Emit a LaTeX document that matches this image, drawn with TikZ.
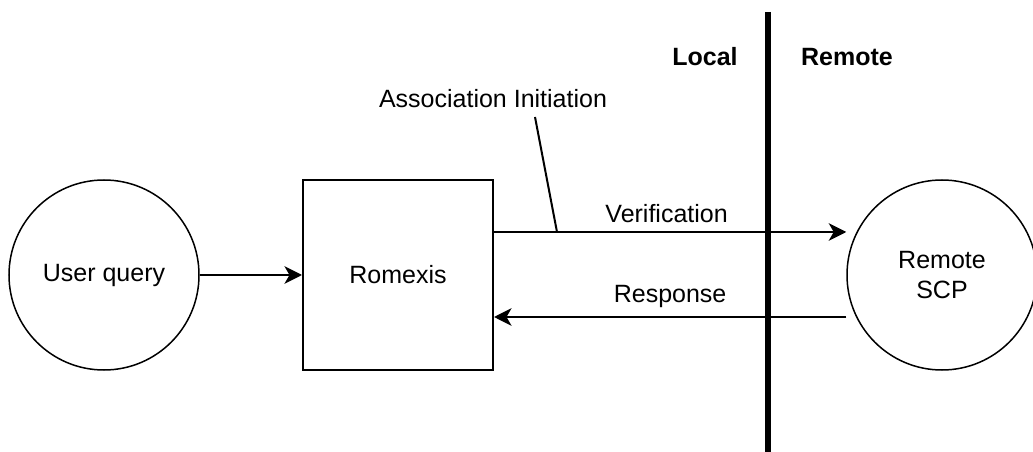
\documentclass[tikz,border=0pt]{standalone}
\usepackage{fontspec}
\setmainfont{Liberation Sans}
\usetikzlibrary{arrows.meta, positioning}

\begin{document}
\begin{tikzpicture}[
    x=0.4pt, y=-0.4pt,
    % Node styles
    endpoint/.style={
        circle,
        draw=black,
        line width=0.6pt,
        minimum size=76pt,
        inner sep=0pt,
        align=center
    },
    processbox/.style={
        rectangle,
        draw=black,
        line width=0.8pt,
        minimum width=76pt,
        minimum height=76pt,
        align=center
    },
    zonelabel/.style={
        font=\bfseries
    },
    arrow/.style={
        -{Stealth[length=7pt, width=7pt, inset=2pt]},
        line width=0.8pt,
        black
    }
]
\useasboundingbox (0,0) rectangle (1033,452);

% === Nodes ===
\node[endpoint] (user) at (104,275) {User query};
\node[processbox] (romexis) at (398,275) {Romexis};
\node[endpoint] (remote) at (942,275) {Remote\\SCP};

% === Local / Remote divider ===
\coordinate (divtop) at (768,12);
\coordinate (divbot) at (768,452);
\draw[line width=2.6pt] (divtop) -- (divbot);
\node[zonelabel] (local) at (705,57) {Local};
\node[zonelabel] (remotezone) at (847,57) {Remote};

% === Arrows ===
\draw[arrow] (user) -- (romexis);
\draw[arrow] (romexis.east |- 0,232) -- node[above, pos=0.49] (verif) {Verification} (remote.west |- 0,232);
\draw[arrow] (remote.west |- 0,317) -- node[above, pos=0.5] (resp) {Response} (romexis.east |- 0,317);

% === Annotation ===
\node (assoc) at (493,99) {Association Initiation};
\coordinate (leadtop) at (535,117);
\coordinate (leadbot) at (557,232);
\draw[line width=0.8pt] (leadtop) -- (leadbot);

\end{tikzpicture}
\end{document}
